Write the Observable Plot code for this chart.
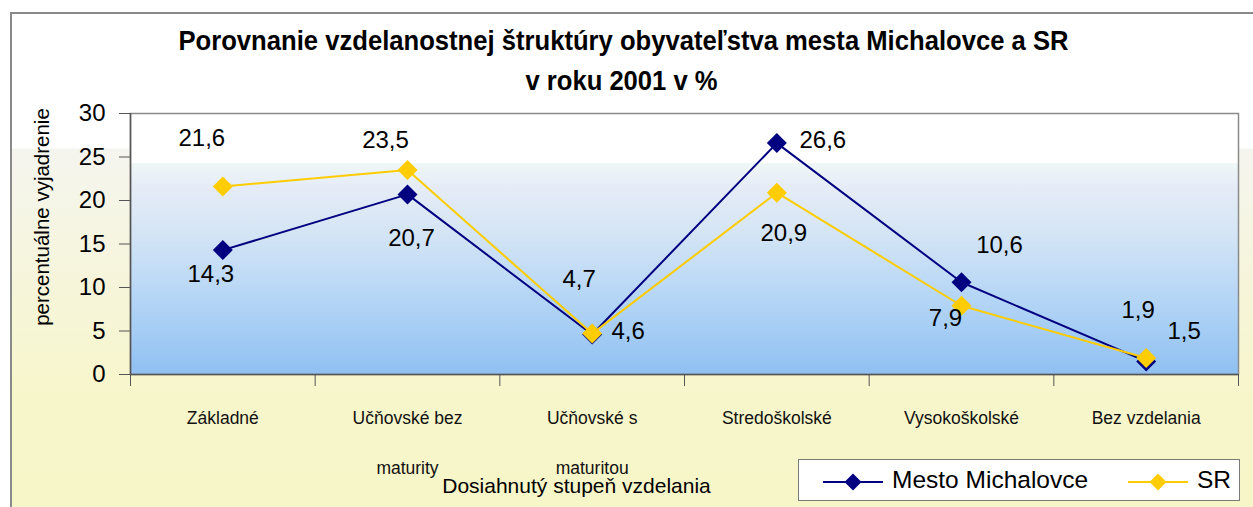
<!DOCTYPE html>
<html>
<head>
<meta charset="utf-8">
<script src="https://cdn.jsdelivr.net/npm/d3@7"></script>
<script src="https://cdn.jsdelivr.net/npm/@observablehq/plot@0.6"></script>
<style>
  html, body { margin: 0; padding: 0; background: #ffffff; }
  #wrap { position: relative; width: 1253px; height: 507px; overflow: hidden; background: #ffffff;
          font-family: "Liberation Sans", Arial, sans-serif; }
  #outer { position: absolute; left: 10px; top: 12px; width: 1260px; height: 510px;
           border-left: 2px solid #8a8a8a; border-top: 2px solid #8a8a8a;
           background: linear-gradient(to bottom, #ffffff 0px, #ffffff 134px, #f5f5ef 135px, #f6f5dc 260px, #f7f6cb 380px, #f7f6c8 510px); }
  #chart { position: absolute; left: 0; top: 0; }
  #legend { position: absolute; left: 798px; top: 459px; width: 442px; height: 42px; box-sizing: border-box;
            background: #ffffff; border: 1.5px solid #7a7a7a; }
  #legend svg { position: absolute; left: 0; top: 0; }
</style>
</head>
<body>
<div id="wrap">
  <div id="outer"></div>
  <div id="chart"></div>
  <div id="legend"></div>
</div>
<script>
// ---------------- data ----------------
const categories = ["Základné", "Učňovské bez\nmaturity", "Učňovské s\nmaturitou", "Stredoškolské", "Vysokoškolské", "Bez vzdelania"];
const seriesNames = ["Mesto Michalovce", "SR"];
const michalovceValues = [14.3, 20.7, 4.6, 26.6, 10.6, 1.5];
const srValues = [21.6, 23.5, 4.7, 20.9, 7.9, 1.9];
const yTicks = [0, 5, 10, 15, 20, 25, 30];
const titleLines = ["Porovnanie vzdelanostnej štruktúry obyvateľstva mesta Michalovce a SR", "v roku 2001 v %"];
const yAxisTitle = "percentuálne vyjadrenie";
const xAxisTitle = "Dosiahnutý stupeň vzdelania";

// ---------------- presentation ----------------
const seriesColors = ["#000080", "#FFCC00"];
// manual data-label offsets (px), as placed in the original chart
const labelOffsets = [
  [[-12, 24], [4, 44], [36, -3], [46, -3], [38, -37], [38, -30]],
  [[-21, -48], [-22, -30], [-13, -54], [7, 41], [-16, 13], [-8, -48]]
];
const titleWidths = [890, 192];

const seriesValues = [michalovceValues, srValues];
const rows = seriesNames.flatMap((s, k) =>
  seriesValues[k].map((v, i) => ({series: s, k, i, value: v})));

const fmt = v => v.toFixed(1).replace(".", ",");
const W = 1253, H = 507;
const font = "'Liberation Sans', Arial, sans-serif";

const labelMarks = rows.map(r =>
  Plot.text([r], {
    x: d => d.i + 0.5, y: "value", text: d => fmt(d.value),
    dx: labelOffsets[r.k][r.i][0], dy: labelOffsets[r.k][r.i][1],
    fontSize: 24, fill: "#000"
  }));

const chart = Plot.plot({
  width: W, height: H,
  marginLeft: 130, marginRight: 15, marginTop: 113, marginBottom: 133,
  style: {background: "transparent", fontFamily: font, fontSize: "24px", color: "#000", overflow: "visible"},
  x: {type: "linear", domain: [0, categories.length]},
  y: {domain: [0, 30]},
  color: {domain: seriesNames, range: seriesColors},
  marks: [
    Plot.frame({fill: "url(#plotGrad)", stroke: "#8a8a8a", strokeWidth: 1.5}),
    Plot.axisY({ticks: yTicks, tickSize: 11, tickPadding: 14, label: null, fontSize: 24, stroke: "#555"}),
    Plot.axisX({ticks: d3.range(categories.length + 1), tickSize: 12, tickFormat: () => "", label: null, stroke: "#555"}),
    Plot.ruleX([0], {stroke: "#555", strokeWidth: 1.5}),
    Plot.ruleY([0], {stroke: "#555", strokeWidth: 1.5}),
    Plot.text(categories, {
      x: (d, i) => i + 0.5, text: d => d, frameAnchor: "bottom", lineAnchor: "top",
      dy: 14, fontSize: 17.5, lineHeight: 2.86, fill: "#111"
    }),
    Plot.line(rows, {x: d => d.i + 0.5, y: "value", z: "series", stroke: "series", strokeWidth: 2}),
    Plot.dot(rows, {x: d => d.i + 0.5, y: "value", fill: "series", symbol: "diamond2", r: 9, stroke: null}),
    ...labelMarks,
    Plot.text([yAxisTitle], {frameAnchor: "left", textAnchor: "middle", lineAnchor: "middle", rotate: -90,
      dx: -88.5, dy: -27, fontSize: 20.5, text: d => d, fill: "#000"}),
    Plot.text([xAxisTitle], {frameAnchor: "bottom", textAnchor: "middle", lineAnchor: "middle",
      dx: -108, dy: 112, fontSize: 21, text: d => d, fill: "#000"}),
    Plot.text([titleLines[0]], {frameAnchor: "top", lineAnchor: "top", dx: -61, dy: -83, fontSize: 28, fontWeight: "bold", text: d => d, fill: "#000"}),
    Plot.text([titleLines[1]], {frameAnchor: "top", lineAnchor: "top", dx: -63, dy: -43, fontSize: 28, fontWeight: "bold", text: d => d, fill: "#000"})
  ]
});

const svg = d3.select(chart);
// condense the title to the original's narrow width
svg.selectAll("text").each(function() {
  const k = titleLines.indexOf(this.textContent);
  if (k >= 0) {
    const target = this.querySelector("tspan") || this;
    d3.select(this).attr("textLength", titleWidths[k]).attr("lengthAdjust", "spacingAndGlyphs");
  }
});

// plot-area gradient
const defs = svg.insert("defs", ":first-child");
const g = defs.append("linearGradient").attr("id", "plotGrad").attr("x1", 0).attr("y1", 0).attr("x2", 0).attr("y2", 1);
[[0, "#ffffff"], [0.19, "#ffffff"], [0.19, "#eff7f6"], [0.28, "#e6ecf7"], [0.45, "#d5e5f5"],
 [0.62, "#c0dbf6"], [0.8, "#a9cff5"], [1, "#8fc0f2"]].forEach(([o, c]) =>
  g.append("stop").attr("offset", o).attr("stop-color", c));

document.getElementById("chart").appendChild(chart);

// legend
const lsvg = d3.select("#legend").append("svg").attr("width", 440).attr("height", 40)
  .style("font-family", font);
const legendX = [24, 329];
seriesNames.forEach((name, k) => {
  const x0 = legendX[k], cy = 22;
  lsvg.append("line").attr("x1", x0).attr("x2", x0 + 60).attr("y1", cy).attr("y2", cy)
    .attr("stroke", seriesColors[k]).attr("stroke-width", 2);
  const r = 8.5;
  lsvg.append("path").attr("d", `M${x0 + 30},${cy - r}L${x0 + 30 + r},${cy}L${x0 + 30},${cy + r}L${x0 + 30 - r},${cy}Z`)
    .attr("fill", seriesColors[k]);
  lsvg.append("text").attr("x", x0 + 69).attr("y", cy + 5.5).attr("font-size", 24.5).attr("fill", "#000").text(name);
});
</script>
</body>
</html>
